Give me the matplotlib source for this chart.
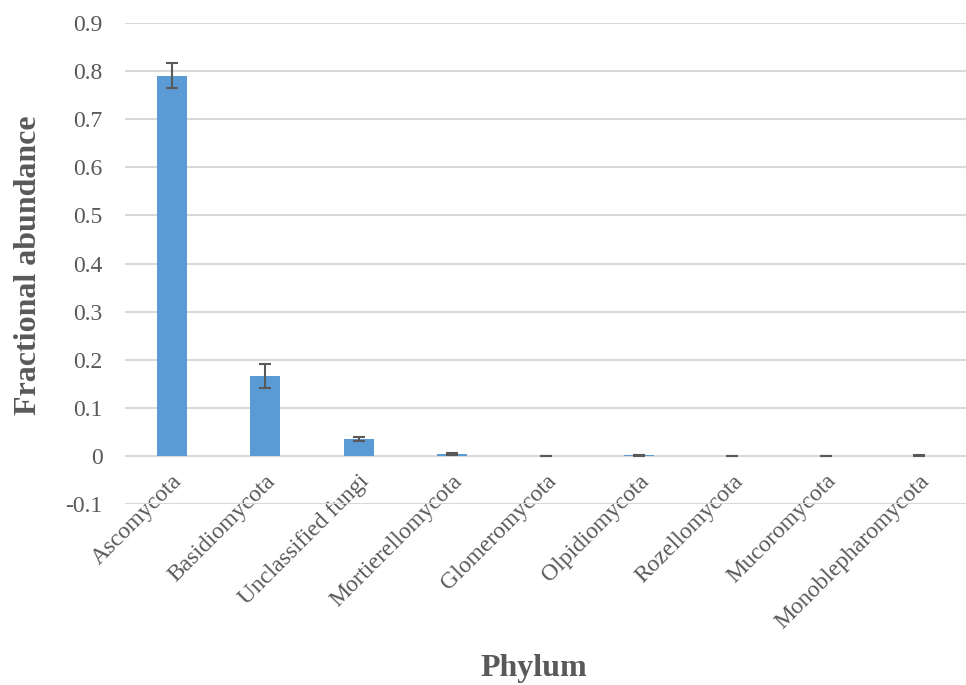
import matplotlib
matplotlib.use('Agg')
import matplotlib.pyplot as plt
import numpy as np

phyla = ['Ascomycota', 'Basidiomycota', 'Unclassified fungi', 'Mortierellomycota',
         'Glomeromycota', 'Olpidiomycota', 'Rozellomycota', 'Mucoromycota',
         'Monoblepharomycota']
abundance = [0.790, 0.166, 0.035, 0.004, 0.0005, 0.001, 0.0004, 0.0005, 0.0003]
err = [0.026, 0.025, 0.005, 0.0015, 0.0003, 0.0003, 0.0003, 0.0003, 0.0008]
yticks = [-0.1, 0, 0.1, 0.2, 0.3, 0.4, 0.5, 0.6, 0.7, 0.8, 0.9]
ytick_labels = ['-0.1', '0', '0.1', '0.2', '0.3', '0.4', '0.5', '0.6', '0.7', '0.8', '0.9']

grey = '#595959'
plt.rcParams['font.family'] = ['Liberation Serif', 'DejaVu Serif']

fig = plt.figure(figsize=(9.66, 6.85), dpi=100)
ax = fig.add_axes([0.1294, 0.2642, 0.8706, 0.7022])

x = np.arange(len(phyla))
ax.bar(x, abundance, width=0.32, color='#5B9BD5', zorder=3)
ax.errorbar(x, abundance, yerr=err, fmt='none', ecolor=grey, elinewidth=1.5,
            capsize=4.5, capthick=1.5, zorder=4)

ax.set_xlim(-0.5, len(phyla) - 0.5)
ax.set_ylim(-0.1, 0.9)
ax.set_yticks(yticks)
ax.set_yticklabels(ytick_labels)
ax.grid(axis='y', color='#D9D9D9', linewidth=1.5, zorder=0)
ax.set_axisbelow(True)
for s in ax.spines.values():
    s.set_visible(False)

# category labels hang from the zero line, as in Excel
ax.set_xticks(x)
ax.set_xticklabels(phyla, rotation=45, ha='right', rotation_mode='anchor')
ax.tick_params(axis='both', length=0, labelsize=17, labelcolor=grey)
ax.tick_params(axis='y', pad=16)
ax.tick_params(axis='x', pad=-24)

fig.text(0.029, 0.613, 'Fractional abundance', fontsize=23, fontweight='bold', color=grey,
         rotation=90, ha='center', va='center')
fig.text(0.553, 0.0248, 'Phylum', fontsize=23, fontweight='bold', color=grey,
         ha='center', va='center')

fig.savefig('out.png', dpi=100)
